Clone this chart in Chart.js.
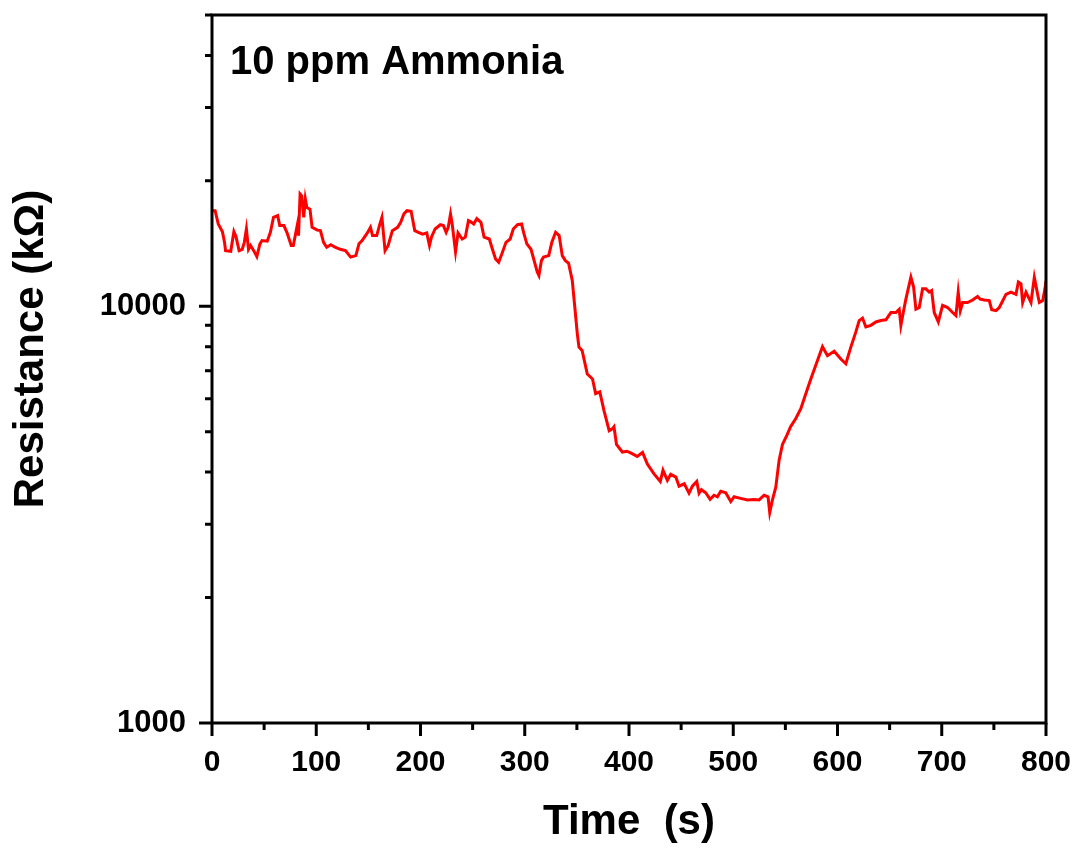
<!DOCTYPE html>
<html>
<head>
<meta charset="utf-8">
<script src="https://cdn.jsdelivr.net/npm/chart.js@4.4.0/dist/chart.umd.min.js"></script>
<style>
  html, body { margin: 0; padding: 0; background: #fff; }
  #wrap { width: 1076px; height: 848px; }
</style>
</head>
<body>
<div id="wrap"><canvas id="myChart" width="1076" height="848"></canvas></div>
<script>
// time (s) and resistance (kOhm)
var timeS = [
  1, 3, 6, 10, 12, 13, 18, 21, 23, 26, 29, 31, 33, 35, 37, 40, 43, 46, 48, 53,
  56, 59, 63, 65, 69, 72, 76, 78, 82, 83, 84.5, 86, 88, 89.5, 91, 94, 96, 101, 104, 107,
  110, 114, 118, 123, 128, 133, 138, 141, 144, 149, 152, 154, 158, 161, 163, 166, 169, 173, 178, 181,
  184, 187, 191, 194.5, 198, 202, 206, 208.6, 210.5, 214, 219, 222, 224.6, 226.6, 228.8, 230.4, 233.6, 236, 240, 243,
  246, 249, 251, 254, 258, 261, 266, 269, 272, 275, 278, 282, 286, 289, 293, 297, 299, 302, 306, 309,
  312, 313.6, 316, 318, 323, 326, 329.6, 333, 336, 339, 342, 345.6, 346.5, 348, 350.4, 352, 355, 360, 365, 368,
  372, 376, 381, 384, 385.6, 388, 393.6, 398, 403, 408, 413, 417.6, 424, 430, 432.6, 436.8, 440, 445, 448, 453,
  457.6, 460.8, 465, 467.2, 469.5, 473.6, 477.8, 481.6, 484.8, 488, 492.8, 497.6, 500.8, 507, 513.6, 520, 524.8, 529.6, 533.4, 535,
  537.6, 540.8, 544, 547.2, 551.4, 555, 560, 564.8, 569.6, 574.4, 580.8, 585.6, 590.4, 596.8, 603.2, 608, 612.8, 617.6, 620.8, 624,
  627.2, 632, 636.8, 641.6, 646.4, 651.2, 656, 659.2, 660.8, 663.4, 665.6, 670.4, 673, 675.2, 678.4, 681.6, 684.8, 688, 690.3, 692.8,
  696.7, 700.8, 705.6, 710.4, 713.6, 715.8, 717.8, 720, 724.8, 729.6, 734.4, 736.9, 740.8, 745.6, 747.9, 752, 755.2, 761.6, 766.4, 771.2,
  773.5, 776, 777.6, 780.8, 785.6, 788.8, 792, 793.6, 796.8, 799, 800
];
var resistanceK = [
  16960, 16960, 15750, 15100, 14240, 13600, 13550, 15100, 14700, 13600, 13700, 14240, 15330, 13700, 13990, 13600, 13160, 14120, 14380, 14330,
  15050, 16350, 16500, 15620, 15620, 15000, 13990, 13990, 15750, 14780, 18600, 18400, 16350, 18100, 17250, 17100, 15470, 15230, 15190, 14240,
  13860, 14050, 13860, 13700, 13600, 13120, 13230, 14120, 14380, 15000, 15470, 14780, 14780, 15750, 16350, 13600, 13990, 15190, 15470, 15900,
  16650, 16960, 16900, 15190, 15050, 14900, 15000, 13990, 14650, 15330, 15690, 15620, 15050, 15470, 16650, 15750, 13510, 15000, 14500, 14650,
  16050, 15900, 15750, 16230, 15900, 14650, 14500, 13700, 12990, 12760, 13350, 14240, 14500, 15330, 15690, 15750, 15000, 14120, 13700, 12870,
  12080, 11850, 12870, 13120, 13230, 14240, 15050, 14780, 13230, 12870, 12700, 11525, 10905, 9960, 8600, 7980, 7830, 6880, 6690, 6170,
  6230, 5620, 5030, 5080, 5140, 4660, 4470, 4490, 4430, 4360, 4460, 4180, 3960, 3800, 4040, 3820, 3950, 3890, 3700, 3750,
  3560, 3700, 3800, 3560, 3630, 3570, 3440, 3520, 3490, 3600, 3570, 3400, 3490, 3460, 3430, 3440, 3430, 3520, 3490, 3200,
  3430, 3680, 4270, 4660, 4900, 5140, 5380, 5680, 6170, 6690, 7410, 8000, 7610, 7800, 7470, 7280, 7980, 8680, 9240, 9370,
  8920, 9000, 9170, 9240, 9280, 9660, 9660, 9840, 9000, 9760, 10400, 11740, 11120, 9840, 9930, 11010, 11010, 10810, 10905, 9660,
  9170, 10050, 9930, 9660, 9500, 10810, 9760, 10210, 10210, 10350, 10560, 10400, 10350, 10320, 9810, 9760, 9930, 10680, 10810, 10680,
  11430, 11320, 10210, 10810, 10210, 11740, 10680, 10210, 10320, 11010, 11500
];
var xTicks = [0, 50, 100, 150, 200, 250, 300, 350, 400, 450, 500, 550, 600, 650, 700, 750, 800];
var yTicks = [1000, 2000, 3000, 4000, 5000, 6000, 7000, 8000, 9000, 10000, 20000, 30000, 40000, 50000];
var yLabels = [1000, 10000];

var pts = [];
for (var i = 0; i < timeS.length; i++) {
  pts.push({x: timeS[i], y: resistanceK[i]});
}

var FONT = "'Liberation Sans', Arial, sans-serif";

function noPad(scale) {
  scale.paddingTop = 0;
  scale.paddingBottom = 0;
  scale.paddingLeft = 0;
  scale.paddingRight = 0;
}

// frame, tick marks, y title and note
var framePlugin = {
  id: 'frame',
  afterDraw: function(chart) {
    var ctx = chart.ctx;
    var a = chart.chartArea;
    var xs = chart.scales.x, ys = chart.scales.y;
    ctx.save();
    ctx.strokeStyle = '#000';
    ctx.lineWidth = 3;
    ctx.strokeRect(a.left, a.top, a.right - a.left, a.bottom - a.top);
    ctx.beginPath();
    xTicks.forEach(function(v) {
      var px = xs.getPixelForValue(v);
      var len = (v % 100 === 0) ? 13 : 7;
      ctx.moveTo(px, a.bottom);
      ctx.lineTo(px, a.bottom + len);
    });
    yTicks.forEach(function(v) {
      var py = ys.getPixelForValue(v);
      var len = (yLabels.indexOf(v) >= 0) ? 13 : 7;
      ctx.moveTo(a.left, py);
      ctx.lineTo(a.left - len, py);
    });
    ctx.stroke();

    ctx.fillStyle = '#000';
    ctx.font = 'bold 40px ' + FONT;
    ctx.textAlign = 'left';
    ctx.textBaseline = 'alphabetic';
    ctx.fillText('10 ppm Ammonia', 230, 74);

    ctx.translate(31, 349);
    ctx.rotate(-Math.PI / 2);
    ctx.font = 'bold 42px ' + FONT;
    ctx.textAlign = 'center';
    ctx.textBaseline = 'middle';
    ctx.fillText('Resistance (k\u03A9)', 0, 0);
    ctx.restore();
  }
};

var ctx = document.getElementById('myChart').getContext('2d');
var myChart = new Chart(ctx, {
  type: 'line',
  data: {
    datasets: [{
      data: pts,
      borderColor: '#ff0000',
      borderWidth: 3,
      pointRadius: 0,
      tension: 0,
      fill: false
    }]
  },
  options: {
    responsive: false,
    animation: false,
    layout: { padding: { top: 15, right: 30, left: 0, bottom: 0 } },
    plugins: {
      legend: { display: false },
      tooltip: { enabled: false }
    },
    scales: {
      x: {
        type: 'linear',
        min: 0,
        max: 800,
        afterBuildTicks: function(scale) {
          scale.ticks = xTicks.map(function(v) { return {value: v}; });
        },
        afterFit: function(scale) { scale.height = 125; noPad(scale); },
        grid: { display: false, drawTicks: false },
        border: { display: false },
        ticks: {
          autoSkip: false,
          maxRotation: 0,
          padding: 22,
          color: '#000',
          font: { family: FONT, size: 30, weight: 'bold' },
          callback: function(v) { return (v % 100 === 0) ? String(v) : ''; }
        },
        title: {
          display: true,
          text: 'Time  (s)',
          color: '#000',
          padding: { top: 0, bottom: 0 },
          font: { family: FONT, size: 42, weight: 'bold' }
        }
      },
      y: {
        type: 'logarithmic',
        min: 1000,
        max: 50000,
        afterBuildTicks: function(scale) {
          scale.ticks = yTicks.map(function(v) { return {value: v}; });
        },
        afterFit: function(scale) { scale.width = 212; noPad(scale); },
        grid: { display: false, drawTicks: false },
        border: { display: false },
        ticks: {
          autoSkip: false,
          padding: 26,
          color: '#000',
          font: { family: FONT, size: 31, weight: 'bold' },
          callback: function(v) { return (yLabels.indexOf(v) >= 0) ? String(v) : ''; }
        }
      }
    }
  },
  plugins: [framePlugin]
});
</script>
</body>
</html>
